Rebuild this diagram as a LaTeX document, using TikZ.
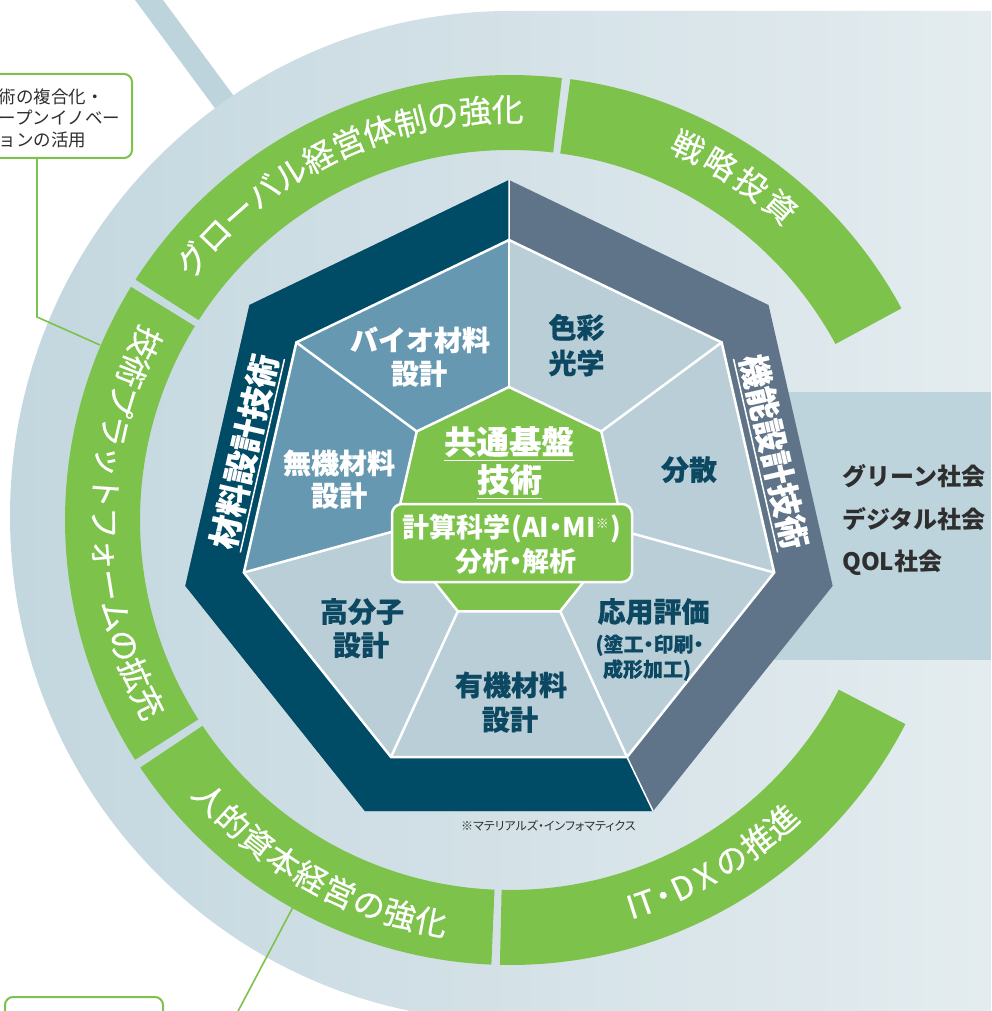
\documentclass[tikz,border=0pt]{standalone}
\usepackage{fontspec}
\setmainfont{Noto Sans CJK JP}
\usetikzlibrary{calc}
\definecolor{bgL}{HTML}{C3D7DF}
\definecolor{bgR}{HTML}{E4ECEF}
\definecolor{bandc}{HTML}{BED4DC}
\definecolor{grn}{HTML}{7DC24B}
\definecolor{darkt}{HTML}{004B66}
\definecolor{slate}{HTML}{5F7489}
\definecolor{midb}{HTML}{6699B1}
\definecolor{pale}{HTML}{B9CED6}
\definecolor{lbl}{HTML}{0C4862}
\definecolor{txtg}{HTML}{2E2E2E}
\newcommand\ringseg[2]{\fill[grn] ($(C)+(#1:445)$) arc[start angle=#1, end angle=#2, radius=445pt] -- ($(C)+(#2:370)$) arc[start angle=#2, end angle=#1, radius=370pt] -- cycle;}
\newcommand\palt{\addfontfeatures{RawFeature=+palt}}
\begin{document}
\begin{tikzpicture}[x=1pt,y=1pt,
  arct/.style={text=white, font=\fontsize{32}{32}\selectfont\addfontfeatures{FakeBold=0.6}, inner sep=0pt, text height=27.5pt, text depth=4.5pt},
  sect/.style={font=\bfseries\fontsize{28}{28}\selectfont\addfontfeatures{FakeBold=0.35}, inner sep=0pt, text height=24.1pt, text depth=3.9pt, text=lbl},
  sectsm/.style={font=\bfseries\fontsize{20}{20}\selectfont\addfontfeatures{RawFeature=+palt,FakeBold=0.3}, inner sep=0pt, text height=17.2pt, text depth=2.8pt, text=lbl},
  bandlbl/.style={font=\bfseries\fontsize{33}{33}\selectfont\addfontfeatures{FakeBold=0.3}, inner sep=0pt, text height=28.4pt, text depth=6.3pt, text=white},
  boxc/.style={draw=grn, line width=2pt, fill=white, rounded corners=8pt, inner sep=0pt},
  conn/.style={draw=grn, line width=1.6pt},
  note/.style={font=\fontsize{17.5}{17.5}\selectfont, text=txtg, inner sep=0pt, anchor=west, text height=15pt, text depth=2pt},
  soc/.style={font=\bfseries\fontsize{24}{24}\selectfont, text=txtg, inner sep=0pt, anchor=west, text height=20.6pt, text depth=3.4pt}
]
\useasboundingbox (0,0) rectangle (991,-1011);
\clip (0,0) rectangle (991,-1011);
\coordinate (C) at (510,-520);
\coordinate (H) at (509,-512);
\coordinate (Gc) at (509,-505);

% diagonal pale bar
\draw[bandc, line width=22.5pt] (133.8,20.6) -- (232.6,-113.3);
% background
\shade[left color=bgL, right color=bgR] (510,-11) -- (991,-11) -- (991,-1021) -- (510,-1021)
  arc[start angle=270, end angle=90, x radius=500pt, y radius=505pt] -- cycle;
% right band
\fill[bandc] (700,-392) rectangle (991,-660);

% green ring segments
\ringseg{28.4}{82.2}
\ringseg{83.3}{147.3}
\ringseg{148.4}{212.6}
\ringseg{213.8}{267.6}
\ringseg{268.7}{332.7}

% heptagon coordinates
\foreach \k/\a in {0/90,1/38.5714,2/-12.8571,3/-64.2857,4/-115.7143,5/-167.1429,6/141.4286}{
  \coordinate (V\k) at ($(H)+(\a:332)$);
  \coordinate (I\k) at ($(H)+(\a:272)$);
  \coordinate (G\k) at ($(Gc)+(\a:118)$);
}
\fill[slate] (V0)--(V1)--(V2)--(V3)--(V4)--(V5)--(V6)--cycle;
\fill[darkt] (V0)--(V6)--(V5)--(V4)--(V3)--(I3)--(I4)--(I5)--(I6)--(I0)--cycle;
\draw[white, line width=1.5pt] (V0)--(I0) (V3)--(I3);
\fill[pale] (I0)--(I1)--(I2)--(I3)--(I4)--(I5)--(I6)--cycle;
\fill[midb] (I5)--(I6)--(I0)--(G0)--(G6)--(G5)--cycle;
\fill[grn] (G0)--(G1)--(G2)--(G3)--(G4)--(G5)--(G6)--cycle;
\foreach \k in {0,...,6}{\draw[white, line width=2.5pt] (I\k)--(G\k);}
\draw[white, line width=2.5pt, line join=miter] (I0)--(I1)--(I2)--(I3)--(I4)--(I5)--(I6)--cycle;
\draw[white, line width=2.5pt, line join=miter] (G0)--(G1)--(G2)--(G3)--(G4)--(G5)--(G6)--cycle;

% band labels
\node[bandlbl, rotate=77.1429] (mat) at ($(H)+(167.1429:270.5)$) {材料設計技術};
\draw[white, line width=1.5pt] (mat.south west) -- (mat.south east);
\node[bandlbl, rotate=-77.1429] (fun) at ($(H)+(12.8571:270.5)$) {機能設計技術};
\draw[white, line width=1.5pt] (fun.south west) -- (fun.south east);

% sector labels
\node[sect, text=white] (bio1) at (420,-340.5) {バイオ材料};
\node[sect, text=white] (bio2) at (419,-374) {設計};
\node[sect, text=white] (ino1) at (339,-463.5) {無機材料};
\node[sect, text=white] (ino2) at (339,-496) {設計};
\node[sect] (col1) at (576.5,-328) {色彩};
\node[sect] (col2) at (576.5,-363.5) {光学};
\node[sect] (dis) at (689,-470) {分散};
\node[sect] (app1) at (653.5,-612) {応用評価};
\node[sectsm] (app2) at (649.5,-644.5) {(塗工・印刷・};
\node[sectsm] (app3) at (647,-669.5) {成形加工)};
\node[sect] (org1) at (511,-685.5) {有機材料};
\node[sect] (org2) at (510,-720) {設計};
\node[sect] (pol1) at (362,-612) {高分子};
\node[sect] (pol2) at (361,-645.5) {設計};

% center
\node[font=\bfseries\fontsize{32.5}{32.5}\selectfont\addfontfeatures{FakeBold=0.3}, text=white, inner sep=0pt, text height=28pt, text depth=6.2pt] (kyo1) at (509,-443) {共通基盤};
\draw[white, line width=1.5pt] (kyo1.south west) -- (kyo1.south east);
\node[font=\bfseries\fontsize{32.5}{32.5}\selectfont\addfontfeatures{FakeBold=0.3}, text=white, inner sep=0pt, text height=28pt, text depth=6.2pt] (kyo2) at (509.5,-481) {技術};
\draw[white, line width=1.5pt] (kyo2.south west) -- (kyo2.south east);
\node[draw=white, fill=grn, line width=2.5pt, rounded corners=10pt, minimum width=240pt, minimum height=78pt] (calc) at (512,-543) {};
\node[font=\bfseries\fontsize{27}{27}\selectfont\palt, text=white, inner sep=0pt, text height=23.2pt, text depth=3.8pt] (calc1) at (512,-528) {計算科学\hspace{1pt}(AI・MI\raisebox{0.35em}{\fontsize{13}{13}\selectfont ※}\hspace{2pt})};
\node[font=\bfseries\fontsize{27}{27}\selectfont\palt, text=white, inner sep=0pt, text height=23.2pt, text depth=3.8pt] (calc2) at (516,-562) {分析・解析};

% footnote
\node[font=\fontsize{12}{12}\selectfont\palt, text=txtg, inner sep=0pt, anchor=west] (fn) at (461,-826) {※マテリアルズ・インフォマティクス};

% society texts
\node[soc] (soc1) at (842,-477) {グリーン社会};
\node[soc] (soc2) at (842,-520) {デジタル社会};
\node[soc] (soc3) at (842,-562) {QOL社会};

% arc texts
\foreach \c [count=\i] in {グ,ロ,ー,バ,ル,経,営,体,制,の,強,化}{
  \pgfmathsetmacro\ang{140.6-(\i-1)*4.57}
  \node[arct, rotate=\ang-90] (gl\i) at ($(C)+(\ang:410)$) {\c};
}
\foreach \c [count=\i] in {戦,略,投,資}{
  \pgfmathsetmacro\ang{64.5-(\i-1)*5.1}
  \node[arct, rotate=\ang-90] (sr\i) at ($(C)+(\ang:413)$) {\c};
}
\foreach \c [count=\i] in {技,術,プ,ラ,ッ,ト,フ,ォ,ー,ム,の,拡,充}{
  \pgfmathsetmacro\ang{154.1+(\i-1)*4.39}
  \node[arct, rotate=\ang+90] (tp\i) at ($(C)+(\ang:406)$) {\c};
}
\foreach \c [count=\i] in {人,的,資,本,経,営,の,強,化}{
  \pgfmathsetmacro\ang{222.9+(\i-1)*4.5}
  \node[arct, rotate=\ang+90] (hc\i) at ($(C)+(\ang:410)$) {\c};
}
\foreach \c/\ang [count=\i] in {I/287.5,T/289.5,・/292.2,D/295.2,X/298.7,の/303.0,推/307.6,進/312.0}{
  \node[arct, rotate=\ang+90] (it\i) at ($(C)+(\ang:406)$) {\c};
}

% top-left note box
\node[boxc, minimum width=164pt, minimum height=84pt] (tlbox) at (50,-116) {};
\node[note] (bt1) at (-19,-97) {技術の複合化・};
\node[note] (bt2) at (-19,-118.5) {オープンイノベー};
\node[note] (bt3) at (-19,-140) {ションの活用};
\coordinate (ka) at (37,-317);
\coordinate (kb) at (100,-345);
\draw[conn] (tlbox.south -| ka) -- (ka) -- (kb);

% bottom-left box
\node[boxc, minimum width=158pt, minimum height=60pt] (blbox) at (84,-1027) {};
\coordinate (kc) at (293,-907);
\coordinate (kd) at (226,-1034);
\draw[conn] (kc) -- (kd);
\end{tikzpicture}
\end{document}
